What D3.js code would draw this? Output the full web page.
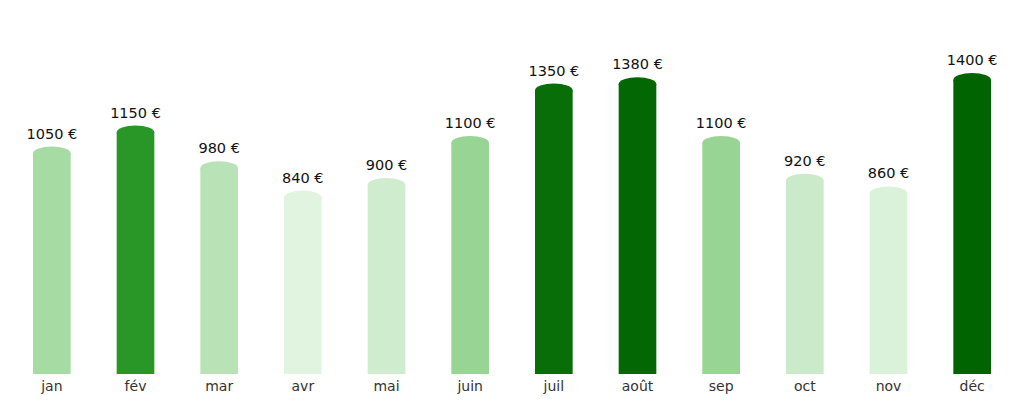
<!DOCTYPE html>
<html>
<head>
<meta charset="utf-8">
<script src="https://cdn.jsdelivr.net/npm/d3@7"></script>
<style>
  body { margin: 0; background: #fff; }
  text { font-family: "DejaVu Sans", sans-serif; }
</style>
</head>
<body>
<div id="chart"></div>
<script>
// data
var months = ["jan", "fév", "mar", "avr", "mai", "juin", "juil", "août", "sep", "oct", "nov", "déc"];
var amounts = [1050, 1150, 980, 840, 900, 1100, 1350, 1380, 1100, 920, 860, 1400];

var width = 1024, height = 404,
    baseY = 374;

var svg = d3.select("#chart")
  .append("svg")
    .attr("width", width)
    .attr("height", height);

var data = months.map(function(m, i) { return {month: m, value: amounts[i]}; });

// x band scale
var x = d3.scaleBand()
  .domain(months)
  .range([10, 1014])
  .paddingInner(0.55)
  .paddingOuter(0.275);

// y scale
var y = d3.scaleLinear()
  .domain([0, 1600])
  .range([baseY, 38]);

// colour follows the amount
var color = d3.scaleLinear()
  .domain([840, 1100, 1150, 1400])
  .range(["#e0f4e0", "#98d594", "#289728", "#006400"])
  .clamp(true);

var capRy = 7;

var bars = svg.append("g")
  .selectAll("g")
  .data(data)
  .enter()
  .append("g");

bars.append("rect")
  .attr("x", function(d) { return x(d.month); })
  .attr("y", function(d) { return y(d.value); })
  .attr("width", x.bandwidth())
  .attr("height", function(d) { return baseY - y(d.value); })
  .style("fill", function(d) { return color(d.value); });

// rounded top
bars.append("ellipse")
  .attr("cx", function(d) { return x(d.month) + x.bandwidth() / 2; })
  .attr("cy", function(d) { return y(d.value); })
  .attr("rx", x.bandwidth() / 2)
  .attr("ry", capRy)
  .style("fill", function(d) { return color(d.value); });

// value labels
bars.append("text")
  .attr("x", function(d) { return x(d.month) + x.bandwidth() / 2; })
  .attr("y", function(d) { return y(d.value) - capRy - 8; })
  .attr("text-anchor", "middle")
  .style("font-size", "14.5px")
  .style("fill", "#111")
  .text(function(d) { return d.value + " €"; });

// x axis
var xAxis = svg.append("g")
  .attr("transform", "translate(0," + baseY + ")")
  .call(d3.axisBottom(x).tickSize(0).tickPadding(7));
xAxis.select(".domain").remove();
xAxis.selectAll("text")
  .style("font-family", "DejaVu Sans, sans-serif")
  .style("font-size", "14px")
  .style("fill", "#333");
</script>
</body>
</html>
